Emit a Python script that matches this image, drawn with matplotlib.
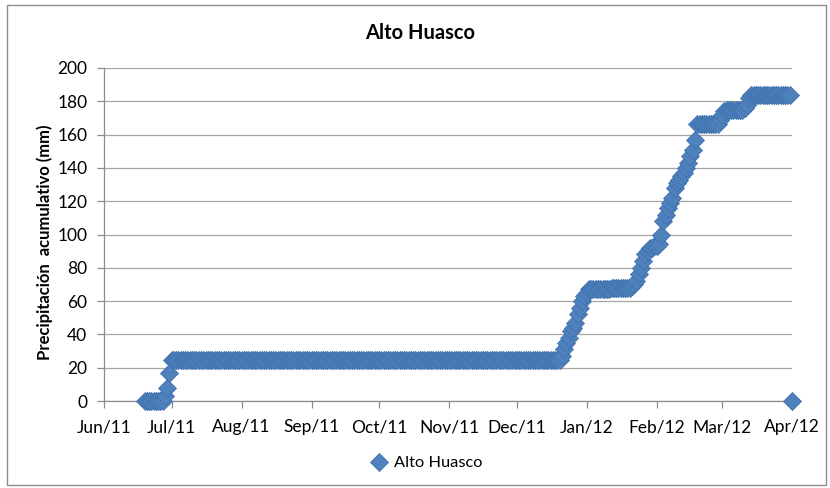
import numpy as np
import pandas as pd
import matplotlib
matplotlib.use("Agg")
import matplotlib.pyplot as plt
import matplotlib.dates as mdates
from matplotlib.patches import Rectangle

plt.rcParams['font.family'] = ['Lato', 'DejaVu Sans']

# daily accumulated rain (value, number of days)
start_date = "2011-06-19"
run_values = [0, 3, 8, 17, 24.6,
              27, 31, 35, 38, 42, 44, 47, 52, 56, 60, 63, 65,
              67, 68,
              69, 70, 72, 76, 80, 84, 88, 90, 92, 93,
              94, 100, 108, 112, 116, 119, 122, 128, 131, 133, 135, 137,
              140, 143, 147, 151, 157,
              166.5, 169, 172, 174, 175, 176, 178, 182, 184]
run_days = [9, 1, 1, 1, 173,
            1, 1, 1, 1, 1, 1, 1, 1, 1, 1, 1, 1,
            10, 9,
            1, 1, 1, 1, 1, 1, 1, 1, 2, 2,
            1, 1, 1, 1, 1, 1, 1, 1, 1, 1, 1, 1,
            1, 1, 1, 1, 1,
            10, 1, 1, 1, 8, 1, 1, 1, 18]
# last point of the series (empty cell shown as 0)
last_date = "2012-04-01"
last_value = 0

month_ticks = pd.date_range("2011-06-01", "2012-04-01", freq="MS")

values = np.repeat(run_values, run_days)
dates = pd.date_range(start_date, periods=len(values), freq="D")
dates = dates.append(pd.DatetimeIndex([last_date]))
values = np.append(values, last_value)

fig = plt.figure(figsize=(8.3, 4.88), dpi=100)
ax = fig.add_axes([104 / 830, 87 / 488, 688 / 830, 333 / 488])

ax.plot(dates, values, linestyle="none", marker="D", markersize=8.8,
        color="#4F81BD", markeredgecolor="#3F72AE", markeredgewidth=0.6,
        label="Alto Huasco", zorder=3, clip_on=False)

ax.set_xlim(month_ticks[0], month_ticks[-1])
ax.set_ylim(0, 200)
ax.set_yticks(np.arange(0, 201, 20))
ax.set_xticks(month_ticks)
ax.xaxis.set_major_formatter(mdates.DateFormatter("%b/%y"))

ax.grid(axis="y", color="#A6A6A6", linewidth=0.9)
ax.set_axisbelow(True)
for s in ["top", "right"]:
    ax.spines[s].set_visible(False)
for s in ["left", "bottom"]:
    ax.spines[s].set_color("#8C8C8C")
    ax.spines[s].set_linewidth(0.9)
ax.tick_params(axis="both", colors="#8C8C8C", length=5, width=0.9,
               labelcolor="black", labelsize=12.5)
ax.tick_params(axis="x", pad=8)
ax.tick_params(axis="y", pad=7)

fig.text(0.506, 0.932, "Alto Huasco", ha="center", va="center",
         fontsize=14.5, fontweight="bold")
fig.text(0.054, 0.503, "Precipitación  acumulativo (mm)", rotation=90,
         ha="center", va="center", fontsize=12, fontweight="bold")

ax.legend(loc="center", bbox_to_anchor=(427 / 830, 25 / 488),
          bbox_transform=fig.transFigure, frameon=False, fontsize=11.8,
          handlelength=1.0, handletextpad=0.4, markerscale=1.0)

fig.patches.append(Rectangle((7 / 830, 3 / 488), 819 / 830, 480 / 488,
                             transform=fig.transFigure, fill=False,
                             edgecolor="#8C8C8C", linewidth=1))

fig.savefig("out.png", dpi=100)
